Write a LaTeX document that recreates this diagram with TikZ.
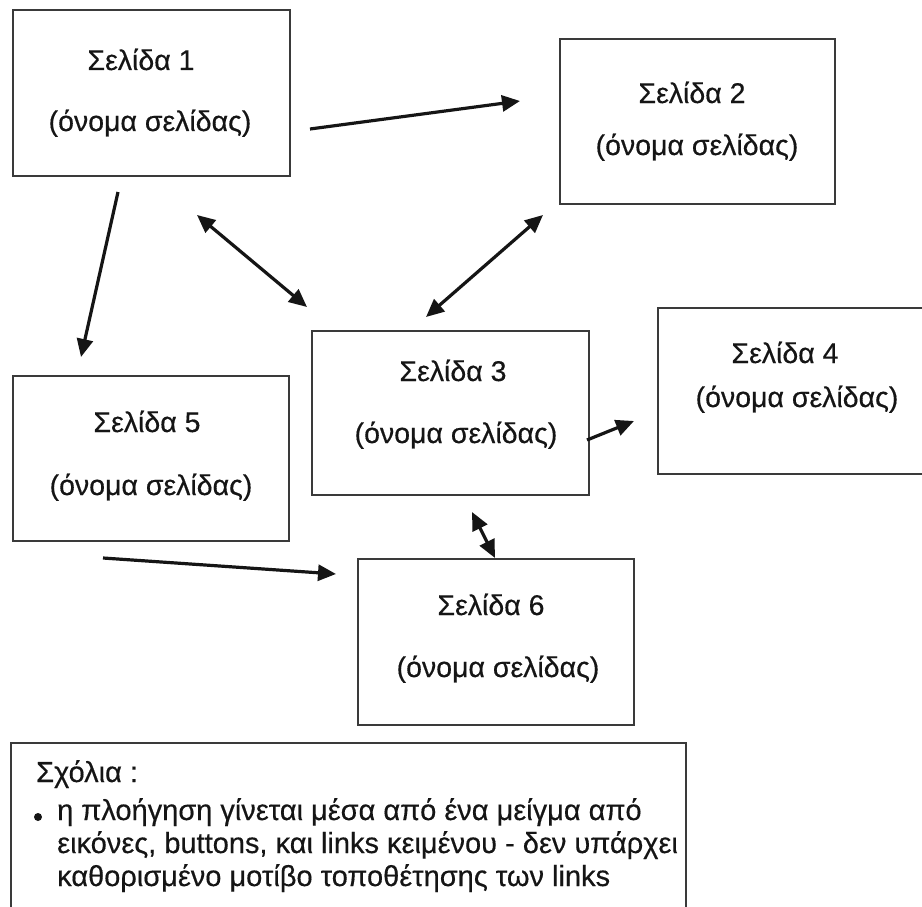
\documentclass[tikz,border=0pt]{standalone}
\usepackage{fontspec}
\setmainfont{Liberation Sans}
\newfontfamily\diagramfont{Liberation Sans}[FakeBold=0.4]
\usetikzlibrary{arrows.meta}
\definecolor{framegray}{HTML}{3A3A3A}
\definecolor{inkblack}{HTML}{151515}
\begin{document}
\begin{tikzpicture}[x=1pt,y=-1pt,
  pagebox/.style={draw=framegray, line width=1.6pt, rectangle, inner sep=0pt, anchor=north west},
  label/.style={inner sep=0pt, anchor=base, text=inkblack, font=\diagramfont\fontsize{28.5}{34}\selectfont},
  note/.style={inner sep=0pt, anchor=base west, text=inkblack, font=\diagramfont\fontsize{29}{33}\selectfont},
  link/.style={draw=inkblack, line width=3.2pt, -{Triangle[length=18pt,width=16pt]}},
  twoway/.style={draw=inkblack, line width=3.2pt, {Triangle[length=18pt,width=16pt]}-{Triangle[length=18pt,width=16pt]}}]
\useasboundingbox (0,0) rectangle (922,907);
\fill[white] (0,0) rectangle (922,907);

% page boxes
\node[pagebox, minimum width=277pt, minimum height=166pt] (p1) at (12,9) {};
\node[pagebox, minimum width=275pt, minimum height=165pt] (p2) at (559,38) {};
\node[pagebox, minimum width=277pt, minimum height=164pt] (p3) at (311,330) {};
\node[pagebox, minimum width=275pt, minimum height=166pt] (p4) at (657,307) {};
\node[pagebox, minimum width=276pt, minimum height=165pt] (p5) at (12,375) {};
\node[pagebox, minimum width=276pt, minimum height=166pt] (p6) at (357,558) {};

% page titles and names
\node[label] (t1) at (141,70) {Σελίδα 1};
\node[label] (n1) at (150,131) {(όνομα σελίδας)};
\node[label] (t2) at (692,103) {Σελίδα 2};
\node[label] (n2) at (697,155) {(όνομα σελίδας)};
\node[label] (t3) at (453,381) {Σελίδα 3};
\node[label] (n3) at (456,443) {(όνομα σελίδας)};
\node[label] (t4) at (785,363) {Σελίδα 4};
\node[label] (n4) at (797,407) {(όνομα σελίδας)};
\node[label] (t5) at (147,432) {Σελίδα 5};
\node[label] (n5) at (151,495) {(όνομα σελίδας)};
\node[label] (t6) at (491,615) {Σελίδα 6};
\node[label] (n6) at (498,677) {(όνομα σελίδας)};

% link end points
\coordinate (a12s) at (310,129);  \coordinate (a12e) at (520,101);
\coordinate (a15s) at (118,192);  \coordinate (a15e) at (81,357);
\coordinate (a13s) at (197,215);  \coordinate (a13e) at (307,307);
\coordinate (a23s) at (543,215);  \coordinate (a23e) at (426,317);
\coordinate (a34s) at (587,440);  \coordinate (a34e) at (634,421);
\coordinate (a36s) at (472,512);  \coordinate (a36e) at (495,558);
\coordinate (a56s) at (103,558);  \coordinate (a56e) at (336,574);

% links between pages
\draw[link] (a12s) -- (a12e);
\draw[link] (a15s) -- (a15e);
\draw[twoway] (a13s) -- (a13e);
\draw[twoway] (a23s) -- (a23e);
\draw[link] (a34s) -- (a34e);
\draw[twoway] (a36s) -- (a36e);
\draw[link] (a56s) -- (a56e);

% notes box
\node[pagebox, minimum width=675pt, minimum height=175pt] (notes) at (10,742) {};
\node[note] (nh) at (36,782) {Σχόλια :};
\node[circle, fill=inkblack, inner sep=0pt, minimum size=8pt] (dot) at (38,817) {};
\node[note] (l1) at (57,820) {η πλοήγηση γίνεται μέσα από ένα μείγμα από};
\node[note] (l2) at (57,853) {εικόνες, buttons, και links κειμένου - δεν υπάρχει};
\node[note] (l3) at (57,886) {καθορισμένο μοτίβο τοποθέτησης των links};
\end{tikzpicture}
\end{document}
